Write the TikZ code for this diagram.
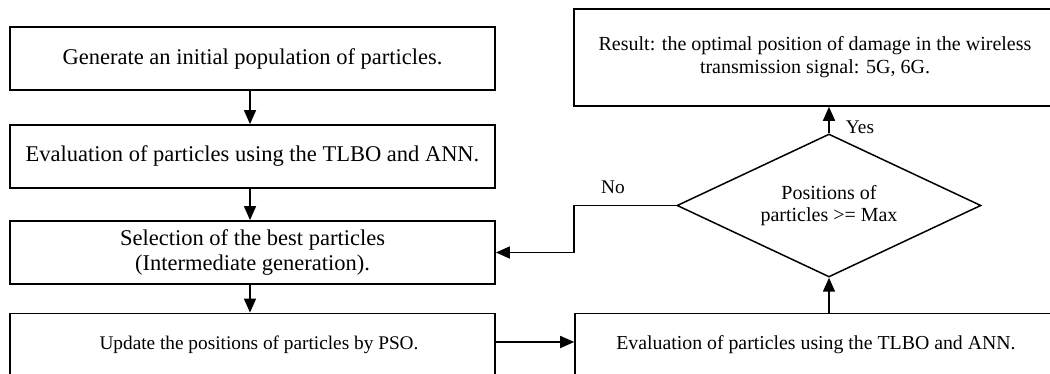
\documentclass[tikz,border=0pt]{standalone}
\usepackage{fontspec}
\setmainfont{Liberation Serif}
\usetikzlibrary{arrows.meta,shapes.geometric}
\begin{document}
\begin{tikzpicture}[x=1pt,y=-1pt,
  box/.style={draw, line width=1.8pt, rectangle, inner sep=0pt, align=center,
    minimum width=485pt, minimum height=63pt, font=\fontsize{22.5}{25}\selectfont},
  smallbox/.style={box, font=\fontsize{19.3}{22}\selectfont},
  rbox/.style={draw, line width=1.6pt, rectangle, inner sep=0pt, align=center,
    minimum width=482pt, font=\fontsize{20}{23}\selectfont},
  dia/.style={draw, diamond, line width=1.5pt, inner sep=0pt, aspect=2.13,
    minimum width=304pt, minimum height=143pt, align=center,
    font=\fontsize{20}{22}\selectfont},
  lbl/.style={inner sep=0pt, font=\fontsize{19.3}{22}\selectfont},
  arr/.style={line width=1.6pt, -{Triangle[length=14pt,width=12pt]}}
]
\useasboundingbox (0,0) rectangle (1050,374);
\clip (0,0) rectangle (1050,374);

\node[box] (b1) at (252.5,58.5) {Generate an initial population of particles.};
\node[box] (b2) at (252.5,156.5) {Evaluation of particles using the TLBO and ANN.};
\node[box] (b3) at (252.5,252.5) {Selection of the best particles\\(Intermediate generation).};
\node[smallbox] (b4) at (252.5,345) {\hspace*{13pt}Update the positions of particles by PSO.};

\node[rbox, minimum height=97pt] (res) at (815,57.5) {Result: the optimal position of damage in the wireless\\transmission signal: 5G, 6G.};
\node[rbox, minimum height=63pt, font=\fontsize{19.8}{22}\selectfont] (e2) at (816,345) {Evaluation of particles using the TLBO and ANN.};

\node[dia] (d) at (829,205.5) {Positions of\\particles >= Max};

\node[lbl] (yes) at (860,127) {Yes};
\node[lbl] (no) at (613,187) {No};

\draw[arr] ([xshift=-2.5pt]b1.south) -- ([xshift=-2.5pt]b2.north);
\draw[arr] ([xshift=-2.5pt]b2.south) -- ([xshift=-2.5pt]b3.north);
\draw[arr] ([xshift=-2.5pt]b3.south) -- ([xshift=-2.5pt]b4.north);
\draw[arr] ([yshift=3pt]b4.east) -- ([yshift=3pt]b4.east -| e2.west);
\draw[arr] (d.south |- e2.north) -- (d.south);
\draw[arr] (d.north) -- (d.north |- res.south);
\draw[arr] (d.west) -- (d.west -| e2.west) |- (b3.east);
\end{tikzpicture}
\end{document}
